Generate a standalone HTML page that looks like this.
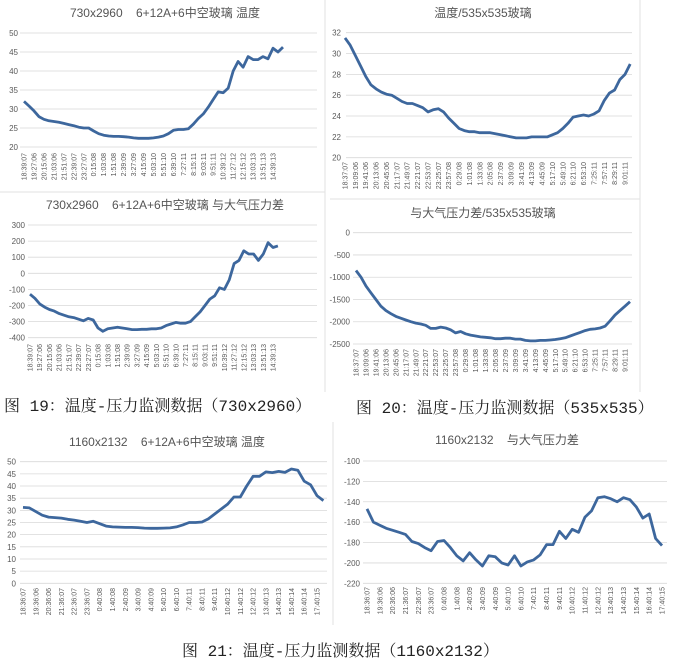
<!DOCTYPE html>
<html><head><meta charset="utf-8">
<style>
html,body{margin:0;padding:0;background:#fff;}
#wrap{position:relative;width:680px;height:660px;overflow:hidden;background:#fff;}
svg{position:absolute;left:0;top:0;}
svg text{white-space:pre;}
.cap{position:absolute;font-family:"Liberation Mono","Noto Serif CJK SC",monospace;font-size:16px;color:#222;white-space:nowrap;}
</style></head>
<body>
<div id="wrap">
<svg id="svg" width="680" height="660">
  <g stroke="#e2e2e2" fill="none">
    <line x1="0" y1="192" x2="325" y2="192"/>
    <line x1="325" y1="0" x2="325" y2="392"/>
    <line x1="330" y1="199" x2="640" y2="199"/>
    <line x1="333" y1="422" x2="333" y2="625"/>
    <line x1="640" y1="0" x2="640" y2="392"/>
  </g>
</svg>
<div class="cap" style="left:4px;top:393px;">图 19：温度-压力监测数据（730x2960）</div>
<div class="cap" style="left:356px;top:395px;">图 20：温度-压力监测数据（535x535）</div>
<div class="cap" style="left:182px;top:638px;">图 21：温度-压力监测数据（1160x2132）</div>
</div>
<script>
const labelsA = ["18:39:07","19:27:06","20:15:06","21:03:06","21:51:07","22:39:07","23:27:07","0:15:08","1:03:08","1:51:08","2:39:09","3:27:09","4:15:09","5:03:10","5:51:10","6:39:10","7:27:11","8:15:11","9:03:11","9:51:11","10:39:12","11:27:12","12:15:12","13:03:13","13:51:13","14:39:13"];
const labelsC = ["18:37:07","19:09:06","19:41:06","20:13:06","20:45:06","21:17:07","21:49:07","22:21:07","22:53:07","23:25:07","23:57:08","0:29:08","1:01:08","1:33:08","2:05:08","2:37:09","3:09:09","3:41:09","4:13:09","4:45:09","5:17:10","5:49:10","6:21:10","6:53:10","7:25:11","7:57:11","8:29:11","9:01:11"];
const labelsE = ["18:36:07","19:36:06","20:36:06","21:36:07","22:36:07","23:36:07","0:40:08","1:40:08","2:40:09","3:40:09","4:40:09","5:40:10","6:40:10","7:40:11","8:40:11","9:40:11","10:40:12","11:40:12","12:40:12","13:40:13","14:40:13","15:40:14","16:40:14","17:40:15"];

const ticksA = [20,25,30,35,40,45,50];
const ticksB = [-400,-300,-200,-100,0,100,200,300];
const ticksC = [20,22,24,26,28,30,32];
const ticksD = [-2500,-2000,-1500,-1000,-500,0];
const ticksE = [0,5,10,15,20,25,30,35,40,45,50];
const ticksF = [-220,-200,-180,-160,-140,-120,-100];

// values sampled every half category label
const tempA = [32,30.8,29.5,28,27.3,26.9,26.7,26.5,26.2,25.9,25.6,25.2,25,25,24.2,23.5,23.1,22.9,22.8,22.8,22.7,22.6,22.4,22.3,22.3,22.3,22.4,22.6,22.9,23.5,24.4,24.6,24.6,24.8,26,27.5,28.7,30.5,32.5,34.5,34.3,35.5,40,42.5,41,43.8,43,43,43.8,43.2,46,45,46.3];
const pressB = [-130,-155,-190,-210,-225,-235,-250,-260,-270,-275,-285,-295,-280,-290,-340,-360,-345,-340,-335,-340,-345,-350,-350,-348,-348,-345,-345,-340,-325,-315,-305,-310,-310,-300,-270,-240,-200,-160,-140,-90,-100,-40,60,80,140,120,120,80,120,190,160,170];
const tempC = [31.5,30.8,29.8,28.8,27.8,27,26.6,26.3,26.1,26,25.7,25.4,25.2,25.2,25,24.8,24.4,24.6,24.7,24.4,23.8,23.3,22.8,22.6,22.5,22.5,22.4,22.4,22.4,22.3,22.2,22.1,22,21.9,21.9,21.9,22,22,22,22,22.2,22.4,22.8,23.3,23.9,24,24.1,24,24.2,24.5,25.5,26.2,26.5,27.5,28,29];
const pressD = [-850,-1000,-1200,-1350,-1500,-1650,-1750,-1820,-1880,-1920,-1960,-2000,-2030,-2050,-2080,-2150,-2150,-2120,-2140,-2180,-2250,-2220,-2270,-2300,-2320,-2340,-2350,-2360,-2380,-2380,-2370,-2370,-2390,-2390,-2420,-2430,-2430,-2420,-2420,-2410,-2400,-2380,-2360,-2320,-2280,-2240,-2200,-2170,-2160,-2140,-2100,-1980,-1850,-1750,-1650,-1550];
const tempE = [31.2,31,29.5,28,27.2,27,26.8,26.3,26,25.5,25,25.5,24.5,23.5,23.2,23.1,23,23,22.9,22.7,22.6,22.6,22.7,22.8,23.2,24,25,25,25.2,26.5,28.5,30.5,32.5,35.5,35.5,40,44,44,45.8,45.5,46,45.6,47,46.5,42,40.5,36,34];
const pressF = [-147,-160,-163,-166,-168,-170,-172,-179,-181,-185,-188,-179,-178,-185,-193,-198,-190,-197,-203,-193,-194,-200,-202,-193,-203,-199,-197,-192,-182,-182,-169,-176,-167,-170,-155,-149,-136,-135,-137,-140,-136,-138,-145,-156,-152,-176,-183];

const NS = "http://www.w3.org/2000/svg";
const svg = document.getElementById('svg');
function mk(tag, attrs, parent){ const e=document.createElementNS(NS,tag); for(const k in attrs) e.setAttribute(k,attrs[k]); (parent||svg).appendChild(e); return e; }

function chart(c){
  const g = mk('g',{});
  
  
  const lo=c.ticks[0], hi=c.ticks[c.ticks.length-1];
  const yS = v => c.yBot - (v-lo)/(hi-lo)*(c.yBot-c.yTop);
  const step = (c.xLast - c.xFirst)/(c.labels.length-1);
  const xS = i => c.xFirst + i*step;
  const t = mk('text',{x:c.tx,y:c.ty,'text-anchor':'middle','font-size':12,fill:'#555','font-family':'"Liberation Sans","Noto Sans CJK SC",sans-serif'},g);
  t.textContent = c.title;
  
  
  c.ticks.forEach(v=>{
    const y=yS(v);
    const l = mk('line',{x1:c.gx0,x2:c.gx1,y1:y,y2:y,stroke:'#d9d9d9','stroke-width':0.8},g);
    
    
    const tl = mk('text',{x:c.ylx,y:y+3,'text-anchor':'end','font-size':8,fill:'#595959','font-family':'"Liberation Sans",sans-serif'},g);
    tl.textContent = v;
    
    
  });
  c.labels.forEach((s,i)=>{
    const x=xS(i)+2.5;
    const tl = mk('text',{x:0,y:0,'text-anchor':'end','font-size':7,fill:'#595959','font-family':'"Liberation Sans",sans-serif',transform:'translate('+x+','+c.lty+') rotate(-90)'},g);
    tl.textContent = s;
    
    
  });
  const pts = c.data.map((v,i)=> xS(i*0.5).toFixed(1)+','+yS(v).toFixed(1)).join(' ');
  const pl = mk('polyline',{points:pts,fill:'none',stroke:'#3d679d','stroke-width':2.8,'stroke-linejoin':'round'},g);
  
  
}

chart({name:'chart-730-temperature',title:'730x2960    6+12A+6中空玻璃 温度',tx:165,ty:17,labels:labelsA,ticks:ticksA,data:tempA,yTop:33,yBot:147,xFirst:24,xLast:273,gx0:20,gx1:317,ylx:18,lty:153});
chart({name:'chart-730-pressure',title:'730x2960    6+12A+6中空玻璃 与大气压力差',tx:165,ty:209,labels:labelsA,ticks:ticksB,data:pressB,yTop:225,yBot:337.7,xFirst:30,xLast:273,gx0:28,gx1:317,ylx:25,lty:344});
chart({name:'chart-535-temperature',title:'温度/535x535玻璃',tx:483,ty:17,labels:labelsC,ticks:ticksC,data:tempC,yTop:32.7,yBot:157.7,xFirst:345,xLast:625,gx0:346,gx1:632,ylx:341,lty:162});
chart({name:'chart-535-pressure',title:'与大气压力差/535x535玻璃',tx:483,ty:217,labels:labelsC,ticks:ticksD,data:pressD,yTop:232.7,yBot:344,xFirst:356,xLast:625,gx0:353,gx1:632,ylx:350,lty:349});
chart({name:'chart-1160-temperature',title:'1160x2132    6+12A+6中空玻璃 温度',tx:167,ty:446,labels:labelsE,ticks:ticksE,data:tempE,yTop:461.7,yBot:583.3,xFirst:23,xLast:317,gx0:20,gx1:327,ylx:16,lty:588});
chart({name:'chart-1160-pressure',title:'1160x2132    与大气压力差',tx:507,ty:444,labels:labelsE,ticks:ticksF,data:pressF,yTop:461,yBot:583.3,xFirst:367,xLast:662,gx0:363,gx1:667,ylx:360,lty:587});
</script>
</body></html>
